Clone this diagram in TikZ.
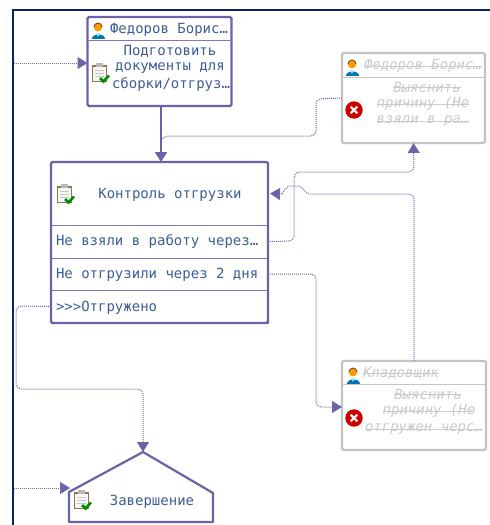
\documentclass[tikz,border=0pt]{standalone}
\usepackage{fontspec}
\usetikzlibrary{arrows.meta,calc}
\newfontfamily\dvmono{DejaVu Sans Mono}
\definecolor{frameblue}{HTML}{0B2265}
\definecolor{boxpurple}{HTML}{6A63A8}
\definecolor{rowpurple}{HTML}{7F7AB6}
\definecolor{linkpurple}{HTML}{6F68AC}
\definecolor{labelblue}{HTML}{3F5E96}
\definecolor{deadgrey}{HTML}{C4C4C4}
\definecolor{deadtext}{HTML}{CBCBCB}
\tikzset{
  x=1pt,y=-1pt,
  every node/.style={outer sep=0pt},
  txt/.style={font=\dvmono\fontsize{14}{17}\selectfont,text=labelblue,inner sep=0pt},
  deadtxt/.style={font=\dvmono\itshape\fontsize{14}{17}\selectfont,text=deadtext,inner sep=0pt},
  livebox/.style={draw=boxpurple,line width=2.2pt,rounded corners=1.5pt,anchor=north west,inner sep=0pt},
  deadbox/.style={draw=deadgrey,line width=2.2pt,rounded corners=1.5pt,anchor=north west,inner sep=0pt},
  rowbox/.style={draw=rowpurple,line width=1pt,anchor=north west,minimum width=217pt,inner sep=0pt},
  rowtext/.style={txt,anchor=west},
  flow/.style={draw=boxpurple,line width=2pt,-{Triangle[length=10pt,width=12pt,fill=boxpurple]}},
  link/.style={draw=linkpurple,line width=1pt,dash pattern=on 1pt off 1pt,rounded corners=5pt,-{Triangle[length=10pt,width=12pt,fill=boxpurple]}},
  plainlink/.style={draw=linkpurple,line width=1pt,dash pattern=on 1pt off 1pt,rounded corners=5pt},
  strike/.style={draw=deadtext,line width=1pt},
  pics/person/.style={code={
    \fill[blue!35!cyan!70!black] (-6.5,8.5) .. controls (-6.5,2.5) and (6.5,2.5) .. (6.5,8.5) -- cycle;
    \fill[cyan!35] (-1.8,3.2) -- (1.8,3.2) -- (0,7) -- cycle;
    \fill[orange!80!yellow] (0,-2.8) circle (4.2);
    \draw[brown!60!black,line width=.9pt] (-4,-3) arc (180:360:4);
  }},
  pics/clipboard/.style={code={
    \fill[brown!70!black!85!white] (-8.5,-8) rectangle (7,9);
    \fill[white!93!gray] (-7,-6) rectangle (5.5,7.5);
    \fill[gray!55] (-4,-10) rectangle (2.5,-6);
    \foreach \yy in {-3,0,3}{\draw[gray!45,line width=.8pt] (-5,\yy) -- (3.5,\yy);}
    \draw[green!55!black,line width=2.6pt] (0,5) -- (3.5,8.5) -- (9,2.5);
  }},
  pics/cancelmark/.style={code={
    \fill[red!80!black] (0,0) circle (8.7);
    \draw[white!92!red,line width=2.2pt] (-3.3,-3.3) -- (3.3,3.3) (-3.3,3.3) -- (3.3,-3.3);
  }}
}
\begin{document}
\begin{tikzpicture}
\useasboundingbox (0,0) rectangle (490,525);
\fill[white] (0,0) rectangle (490,525);
% outer frame
\draw[frameblue,line width=2.2pt] (13,525) -- (13,10) -- (490,10);
\coordinate (frameA) at (14,63);
\coordinate (frameB) at (14,488);

% box: Fedorov / prepare documents
\node[livebox,minimum width=144pt,minimum height=89pt] (box1) at (87.5,17) {};
\draw[rowpurple,line width=1pt] (87.5,40.5) -- (231.5,40.5);
\pic at (98,30) {person};
\node[txt,anchor=west] (b1who) at (110,29.5) {Федоров Борис…};
\pic at (100,73) {clipboard};
\node[txt] (b1a) at (170,51) {Подготовить};
\node[txt] (b1b) at (170,68) {документы для};
\node[txt] (b1c) at (171,85) {сборки/отгруз…};

% box: control
\node[draw=rowpurple,line width=1pt,anchor=north west,minimum width=217pt,minimum height=63pt,inner sep=0pt] (head) at (51,162) {};
\node[txt] (headtext) at (170,195) {Контроль отгрузки};
\node[rowbox,minimum height=33pt] (row1) at (51,225) {};
\node[rowbox,minimum height=32pt] (row2) at (51,258) {};
\node[rowbox,minimum height=33pt] (row3) at (51,290) {};
\node[rowtext] (row1text) at (56,242) {Не взяли в работу через…};
\node[rowtext] (row2text) at (56,275) {Не отгрузили через 2 дня};
\node[rowtext] (row3text) at (56,307.5) {>{}>{}>Отгружено};
\node[livebox,minimum width=217pt,minimum height=161pt] (box2) at (51,162) {};
\pic at (65,194) {clipboard};

% grey box: Fedorov / find out
\node[deadbox,minimum width=143pt,minimum height=90pt] (box3) at (342,53) {};
\draw[deadgrey,line width=1pt] (342,77) -- (485,77);
\pic at (352,67) {person};
\node[deadtxt,anchor=west] (b3who) at (364,66) {Федоров Борис…};
\pic at (354,110) {cancelmark};
\node[deadtxt] (b3a) at (427,87) {Выяснить};
\node[deadtxt] (b3b) at (423,104) {причину (Не};
\node[deadtxt] (b3c) at (423,121) {взяли в ра…};
\foreach \n in {b3who,b3a,b3b,b3c}{\draw[strike] (\n.west) -- (\n.east);}

% grey box: storekeeper
\node[deadbox,minimum width=144pt,minimum height=89pt] (box4) at (342,361) {};
\draw[deadgrey,line width=1pt] (342,384) -- (486,384);
\pic at (353,375) {person};
\node[deadtxt,anchor=west] (b4who) at (363,373) {Кладовщик};
\pic at (354,418) {cancelmark};
\node[deadtxt] (b4a) at (428,394) {Выяснить};
\node[deadtxt] (b4b) at (429,411) {причину (Не};
\node[deadtxt] (b4c) at (424,429) {отгружен черс…};
\foreach \n in {b4who,b4a,b4b,b4c}{\draw[strike] (\n.west) -- (\n.east);}

% house: finish
\coordinate (apex) at (143,452);
\draw[boxpurple,line width=2.2pt,line join=round,fill=white] (apex) -- (213,493) -- (213,522) -- (69,522) -- (69,492) -- cycle;
\node[txt] (finish) at (152,502) {Завершение};
\pic at (82,500) {clipboard};

% connectors
\draw[link] (frameA) -- (box1.west |- frameA);
\coordinate (finishleft) at (70,488);
\draw[link] (frameB) -- (finishleft);
\draw[flow] ([xshift=1.5pt]box1.south) -- ([xshift=1.5pt]box2.north);
\coordinate (join) at (161,141);
\draw[plainlink] (box3.west) -- (316,99) -- (316,136) -- (163,136) -- (join);
\draw[link] (row1.east) -- (294,241) -- (294,172) -- (414,172) -- (box3.south);
\draw[plainlink] (box4.north) -- (414,194) -- (305,194) .. controls (303,188) and (299,186) .. (294,186) .. controls (289,186) and (285,188) .. (282,194);
\coordinate (hopend) at (282,194);
\draw[link] (hopend) -- ([xshift=2pt]head.east);
\draw[link] (row2.east) -- (316,274) -- (316,407) -- (342,407);
\draw[link] (row3.west) -- (16,306) -- (16,389) -- (143,389) -- (apex);
\end{tikzpicture}
\end{document}
